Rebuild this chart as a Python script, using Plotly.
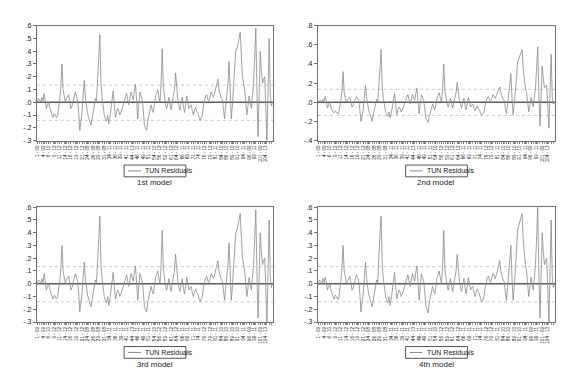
import plotly.graph_objects as go

# ---------------- data ----------------
resid_1 = [
    0.00, 0.03, 0.02, 0.00, 0.04, 0.01, 0.07, 0.02, -0.05, -0.02, 0.00, -0.04, -0.08, -0.10, -0.12, -0.09, -0.10, -0.12, -0.11, -0.06,
    0.02, 0.12, 0.30, 0.10, 0.05, 0.00, 0.03, 0.05, 0.06, 0.01, -0.05, -0.03, 0.00, 0.04, 0.08, 0.05, 0.02, -0.08, -0.22, -0.15,
    -0.08, 0.05, 0.17, 0.04, -0.05, -0.09, -0.12, -0.16, -0.18, -0.13, -0.08, -0.03, 0.03, 0.01, 0.25, 0.35, 0.53, 0.15, 0.04, -0.04,
    -0.10, -0.13, -0.15, -0.10, -0.17, -0.12, -0.05, 0.02, 0.09, -0.02, -0.12, -0.08, -0.05, -0.07, -0.10, -0.08, -0.05, -0.01, 0.02, 0.05,
    0.07, 0.02, -0.02, 0.03, 0.08, 0.05, 0.02, 0.09, 0.14, 0.01, -0.13, -0.02, 0.08, 0.05, 0.02, -0.06, -0.18, -0.20, -0.22, -0.15,
    -0.10, -0.05, -0.02, -0.06, -0.08, -0.02, 0.05, 0.07, 0.10, 0.04, 0.00, 0.15, 0.42, 0.12, 0.03, -0.02, -0.05, 0.00, 0.04, -0.02,
    -0.06, 0.00, 0.05, 0.10, 0.23, 0.08, 0.02, -0.03, -0.06, 0.00, 0.04, -0.03, -0.08, -0.02, 0.05, 0.00, -0.05, -0.03, -0.02, -0.07,
    -0.10, -0.06, -0.04, -0.07, -0.08, -0.12, -0.14, -0.12, -0.10, -0.03, 0.03, 0.05, 0.06, 0.02, 0.01, 0.05, 0.08, 0.06, 0.04, 0.07,
    0.10, 0.13, 0.18, 0.10, 0.06, 0.03, 0.02, -0.05, -0.13, -0.03, 0.06, 0.15, 0.32, 0.05, -0.13, -0.02, 0.10, 0.25, 0.40, 0.42,
    0.45, 0.50, 0.55, 0.35, 0.20, 0.15, 0.10, 0.00, -0.10, -0.03, 0.05, 0.00, -0.05, 0.05, 0.15, 0.35, 0.58, 0.10, -0.27, 0.05,
    0.40, 0.25, 0.15, 0.18, 0.20, -0.05, -0.30, 0.10, 0.50, 0.05, -0.03, 0.00]

resid_2 = [
    0.00, 0.02, 0.02, 0.00, 0.03, 0.01, 0.06, 0.02, -0.06, -0.02, 0.00, -0.05, -0.08, -0.10, -0.11, -0.09, -0.10, -0.12, -0.12, -0.06,
    0.02, 0.12, 0.32, 0.10, 0.04, 0.00, 0.03, 0.04, 0.05, 0.01, -0.05, -0.03, 0.01, 0.03, 0.06, 0.04, 0.02, -0.08, -0.20, -0.14,
    -0.08, 0.05, 0.18, 0.05, -0.05, -0.09, -0.12, -0.16, -0.20, -0.13, -0.08, -0.03, 0.03, 0.01, 0.25, 0.35, 0.55, 0.15, 0.04, -0.04,
    -0.10, -0.13, -0.15, -0.10, -0.16, -0.12, -0.05, 0.02, 0.09, -0.02, -0.13, -0.08, -0.05, -0.07, -0.10, -0.08, -0.04, -0.01, 0.02, 0.05,
    0.08, 0.02, -0.02, 0.03, 0.08, 0.05, 0.02, 0.09, 0.15, 0.01, -0.12, -0.02, 0.08, 0.05, 0.02, -0.06, -0.17, -0.19, -0.21, -0.15,
    -0.10, -0.05, -0.02, -0.06, -0.08, -0.02, 0.05, 0.07, 0.10, 0.04, 0.00, 0.15, 0.40, 0.12, 0.03, -0.02, -0.05, 0.00, 0.04, -0.02,
    -0.06, 0.00, 0.05, 0.10, 0.21, 0.08, 0.02, -0.03, -0.06, 0.00, 0.04, -0.03, -0.08, -0.02, 0.05, 0.00, -0.05, -0.03, -0.02, -0.07,
    -0.09, -0.06, -0.04, -0.07, -0.08, -0.12, -0.13, -0.12, -0.10, -0.03, 0.03, 0.05, 0.06, 0.02, 0.01, 0.05, 0.08, 0.06, 0.04, 0.07,
    0.10, 0.12, 0.16, 0.10, 0.06, 0.03, 0.02, -0.05, -0.12, -0.03, 0.06, 0.15, 0.30, 0.05, -0.13, -0.02, 0.10, 0.25, 0.42, 0.45,
    0.48, 0.50, 0.55, 0.35, 0.22, 0.15, 0.10, 0.00, -0.10, -0.03, 0.05, 0.00, -0.05, 0.05, 0.15, 0.35, 0.58, 0.10, -0.25, 0.05,
    0.38, 0.25, 0.15, 0.16, 0.18, -0.05, -0.27, 0.10, 0.50, 0.05, -0.02, 0.00]

resid_3 = [
    0.00, 0.03, 0.02, 0.00, 0.04, 0.01, 0.08, 0.02, -0.05, -0.02, 0.00, -0.04, -0.08, -0.10, -0.12, -0.09, -0.10, -0.12, -0.11, -0.06,
    0.02, 0.12, 0.30, 0.10, 0.05, 0.00, 0.03, 0.05, 0.06, 0.01, -0.05, -0.03, 0.00, 0.04, 0.08, 0.05, 0.02, -0.08, -0.22, -0.15,
    -0.08, 0.05, 0.17, 0.04, -0.05, -0.09, -0.12, -0.16, -0.18, -0.13, -0.08, -0.03, 0.03, 0.01, 0.25, 0.35, 0.53, 0.15, 0.04, -0.04,
    -0.10, -0.13, -0.15, -0.10, -0.17, -0.12, -0.05, 0.02, 0.09, -0.02, -0.12, -0.08, -0.05, -0.07, -0.10, -0.08, -0.05, -0.01, 0.02, 0.05,
    0.07, 0.02, -0.02, 0.03, 0.08, 0.05, 0.02, 0.09, 0.14, 0.01, -0.13, -0.02, 0.08, 0.05, 0.02, -0.06, -0.18, -0.20, -0.22, -0.15,
    -0.10, -0.05, -0.02, -0.06, -0.08, -0.02, 0.05, 0.07, 0.10, 0.04, 0.00, 0.15, 0.42, 0.12, 0.03, -0.02, -0.05, 0.00, 0.04, -0.02,
    -0.06, 0.00, 0.05, 0.10, 0.23, 0.08, 0.02, -0.03, -0.06, 0.00, 0.04, -0.03, -0.08, -0.02, 0.05, 0.00, -0.05, -0.03, -0.02, -0.07,
    -0.10, -0.06, -0.04, -0.07, -0.08, -0.12, -0.14, -0.12, -0.10, -0.03, 0.03, 0.05, 0.06, 0.02, 0.01, 0.05, 0.08, 0.06, 0.04, 0.07,
    0.10, 0.13, 0.18, 0.10, 0.06, 0.03, 0.02, -0.05, -0.13, -0.03, 0.06, 0.15, 0.32, 0.05, -0.13, -0.02, 0.10, 0.25, 0.40, 0.42,
    0.45, 0.50, 0.55, 0.35, 0.20, 0.15, 0.10, 0.00, -0.10, -0.03, 0.05, 0.00, -0.05, 0.05, 0.15, 0.35, 0.58, 0.10, -0.27, 0.05,
    0.40, 0.25, 0.15, 0.18, 0.20, -0.05, -0.30, 0.10, 0.50, 0.05, -0.03, 0.00]

resid_4 = [
    0.00, 0.03, 0.02, 0.00, 0.04, 0.01, 0.05, 0.02, -0.05, -0.02, 0.00, -0.04, -0.08, -0.10, -0.12, -0.09, -0.10, -0.12, -0.12, -0.06,
    0.02, 0.12, 0.30, 0.10, 0.05, 0.00, 0.02, 0.05, 0.06, 0.01, -0.05, -0.03, 0.00, 0.04, 0.07, 0.05, 0.02, -0.08, -0.22, -0.15,
    -0.08, 0.05, 0.17, 0.04, -0.05, -0.09, -0.12, -0.16, -0.18, -0.13, -0.08, -0.03, 0.03, 0.01, 0.25, 0.40, 0.53, 0.15, 0.04, -0.04,
    -0.10, -0.13, -0.15, -0.10, -0.17, -0.12, -0.05, 0.02, 0.09, -0.02, -0.12, -0.08, -0.05, -0.07, -0.10, -0.08, -0.05, -0.01, 0.02, 0.05,
    0.07, 0.02, -0.02, 0.03, 0.08, 0.05, 0.02, 0.09, 0.14, 0.01, -0.13, -0.02, 0.08, 0.05, 0.02, -0.06, -0.18, -0.20, -0.23, -0.15,
    -0.10, -0.05, -0.02, -0.06, -0.08, -0.02, 0.05, 0.07, 0.10, 0.04, 0.00, 0.15, 0.42, 0.12, 0.03, -0.02, -0.05, 0.00, 0.04, -0.02,
    -0.06, 0.00, 0.05, 0.10, 0.23, 0.08, 0.02, -0.03, -0.06, 0.00, 0.04, -0.03, -0.08, -0.02, 0.05, 0.00, -0.05, -0.03, -0.02, -0.07,
    -0.10, -0.06, -0.04, -0.07, -0.08, -0.12, -0.14, -0.12, -0.10, -0.03, 0.03, 0.05, 0.06, 0.02, 0.01, 0.05, 0.08, 0.06, 0.04, 0.07,
    0.10, 0.13, 0.18, 0.10, 0.06, 0.03, 0.02, -0.05, -0.13, -0.03, 0.06, 0.15, 0.30, 0.05, -0.13, -0.02, 0.10, 0.25, 0.42, 0.45,
    0.48, 0.50, 0.55, 0.35, 0.22, 0.15, 0.10, 0.00, -0.10, -0.03, 0.05, 0.00, -0.05, 0.05, 0.15, 0.35, 0.60, 0.10, -0.27, 0.05,
    0.40, 0.25, 0.15, 0.18, 0.20, -0.05, -0.30, 0.10, 0.50, 0.05, -0.03, 0.00]

series = [resid_1, resid_2, resid_3, resid_4]
captions = ["1st model", "2nd model", "3rd model", "4th model"]
series_name = "TUN Residuals"

# +/- reference bands per model
bands = [[0.134, -0.142], [0.135, -0.138], [0.134, -0.142], [0.134, -0.142]]

y_ranges = [[-0.3, 0.6], [-0.4, 0.8], [-0.3, 0.6], [-0.3, 0.6]]
ticks_a = [[-0.3, -0.2, -0.1, 0.0, 0.1, 0.2, 0.3, 0.4, 0.5, 0.6],
           ["-.3", "-.2", "-.1", ".0", ".1", ".2", ".3", ".4", ".5", ".6"]]
ticks_b = [[-0.4, -0.2, 0.0, 0.2, 0.4, 0.6, 0.8],
           ["-.4", "-.2", ".0", ".2", ".4", ".6", ".8"]]
y_ticks = [ticks_a, ticks_b, ticks_a, ticks_a]

x_tick_num = [1, 4, 6, 9, 11, 14, 16, 19, 21, 24, 26, 29, 31, 34, 36, 39, 41, 44,
              46, 49, 51, 54, 56, 59, 61, 64, 66, 69, 71, 74, 76, 79, 81, 84,
              86, 89, 91, 94, 96, 99, 101, 104]
x_tick_year = ["09", "09", "10", "12", "12", "12", "12", "12", "12", "08", "08",
               "08", "08", "11", "11", "11", "11", "13", "11", "11", "11", "10",
               "12", "12", "12", "12", "11", "11", "11", "11", "12", "12", "11",
               "10", "10", "10", "10", "11", "09", "11", "09", "13"]
x_tick_text = [f"{p} - {yy}" for p, yy in zip(x_tick_num, x_tick_year)]
x_tick_obs = [1 + 5 * i for i in range(len(x_tick_text))]  # observation index of each label

# ---------------- layout geometry ----------------
W, H = 566, 369
panels = [  # (left, right, top, bottom) in pixels
    (27, 264, 14, 131),
    (309, 547, 14, 131),
    (27, 264, 199, 316),
    (309, 547, 199, 316),
]
legend_y = [162, 162, 347, 347]
caption_y = [174, 174, 359, 359]

fig = go.Figure()
font = "Arial, Liberation Sans, sans-serif"
axis_col = "#707070"

shapes = []
annotations = []
for k, vals in enumerate(series):
    xs = list(range(1, len(vals) + 1))
    ax = "" if k == 0 else str(k + 1)
    fig.add_trace(go.Scatter(
        x=xs, y=vals, mode="lines", name=series_name,
        line=dict(color="#8a8a8a", width=0.8),
        xaxis="x" + ax, yaxis="y" + ax, showlegend=False))
    l, r, t, b = panels[k]
    xd = [l / W, r / W]
    yd = [1 - b / H, 1 - t / H]
    fig.layout["xaxis" + ax] = dict(
        domain=xd, anchor="y" + ax, range=[0.5, len(vals) + 0.5],
        showgrid=False, zeroline=False, showline=True, mirror=True,
        linecolor=axis_col, linewidth=1,
        tickmode="array", tickvals=x_tick_obs, ticktext=x_tick_text,
        tickangle=-90, ticks="outside", ticklen=2, tickcolor=axis_col,
        tickfont=dict(size=4.6, color="#222", family=font),
        minor=dict(ticks="outside", dtick=2, tick0=1, ticklen=2, tickcolor="#999"),
    )
    fig.layout["yaxis" + ax] = dict(
        domain=yd, anchor="x" + ax, range=y_ranges[k],
        showgrid=False, zeroline=False, showline=True, mirror=True,
        linecolor=axis_col, linewidth=1,
        tickmode="array", tickvals=y_ticks[k][0], ticktext=y_ticks[k][1],
        ticks="outside", ticklen=3, tickcolor=axis_col,
        tickfont=dict(size=7, color="#222", family=font),
    )
    xref = "x" + ax + " domain"
    yref = "y" + ax
    shapes.append(dict(type="line", xref=xref, yref=yref, x0=0, x1=1, y0=0, y1=0,
                       line=dict(color="#5a5a5a", width=1.4), layer="below"))
    for bv in bands[k]:
        shapes.append(dict(type="line", xref=xref, yref=yref, x0=0, x1=1, y0=bv, y1=bv,
                           line=dict(color="#a8a8a8", width=0.6, dash="dot"), layer="below"))

    # legend box (drawn manually to match the compact EViews legend)
    cx = (l + r) / 2
    ly = legend_y[k]
    bx0, bx1 = cx - 31, cx + 31
    shapes.append(dict(type="rect", xref="paper", yref="paper",
                       x0=bx0 / W, x1=bx1 / W, y0=1 - (ly + 6) / H, y1=1 - (ly - 6) / H,
                       line=dict(color="#555", width=1), fillcolor="white"))
    shapes.append(dict(type="line", xref="paper", yref="paper",
                       x0=(bx0 + 4) / W, x1=(bx0 + 17) / W, y0=1 - ly / H, y1=1 - ly / H,
                       line=dict(color="#8a8a8a", width=1)))
    annotations.append(dict(
        text=series_name, x=(bx0 + 19) / W, y=1 - ly / H, xref="paper", yref="paper",
        xanchor="left", yanchor="middle", showarrow=False,
        font=dict(size=7, color="#222", family=font)))
    annotations.append(dict(
        text=captions[k], x=cx / W, y=1 - caption_y[k] / H, xref="paper", yref="paper",
        xanchor="center", yanchor="middle", showarrow=False,
        font=dict(size=8, color="#222", family=font)))

fig.update_layout(
    width=W, height=H, margin=dict(l=0, r=0, t=0, b=0),
    paper_bgcolor="white", plot_bgcolor="white",
    shapes=shapes, annotations=annotations, showlegend=False,
)

fig.write_html("out.html")
